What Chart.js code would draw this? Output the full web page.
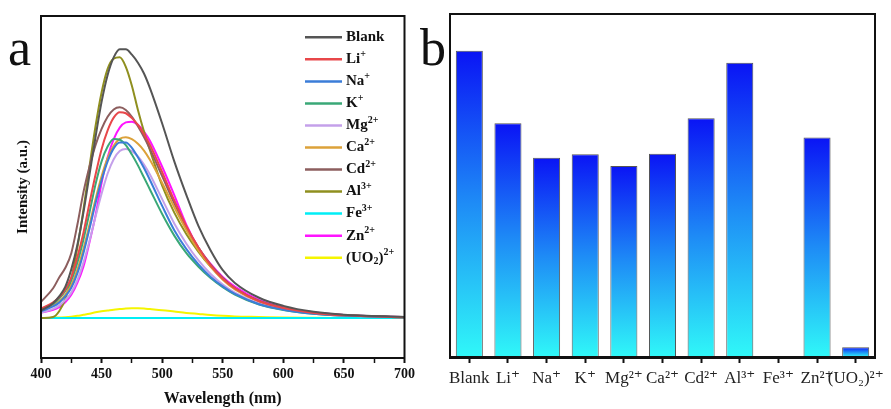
<!DOCTYPE html>
<html>
<head>
<meta charset="utf-8">
<script src="https://cdn.jsdelivr.net/npm/chart.js@4.4.0/dist/chart.umd.min.js"></script>
<style>
  body { margin: 0; background: #fff; width: 891px; height: 409px; overflow: hidden; position: relative; }
  #wrapA { position: absolute; left: 0; top: 0; width: 418px; height: 409px; }
  #wrapB { position: absolute; left: 418px; top: 0; width: 473px; height: 409px; }
</style>
</head>
<body>
<div id="wrapA"><canvas id="spectra" width="418" height="409"></canvas></div>
<div id="wrapB"><canvas id="bars" width="473" height="409"></canvas></div>
<script>
// (a) emission spectra
const wavelengths = [400,410,415,420,425,430,435,440,445,450,455,460,465,470,475,480,485,490,500,510,520,530,540,550,560,580,600,625,650,700];
const blank = [0.027,0.055,0.08,0.115,0.18,0.27,0.39,0.53,0.67,0.80,0.90,0.965,0.995,0.995,0.975,0.945,0.905,0.85,0.72,0.58,0.455,0.34,0.25,0.177,0.13,0.075,0.045,0.023,0.012,0.004];
const li = [0.035,0.058,0.077,0.105,0.15,0.225,0.315,0.425,0.53,0.625,0.695,0.742,0.762,0.758,0.74,0.715,0.68,0.64,0.54,0.435,0.34,0.26,0.195,0.145,0.11,0.062,0.037,0.019,0.01,0.003];
const na = [0.025,0.043,0.057,0.08,0.112,0.165,0.24,0.33,0.425,0.51,0.58,0.628,0.65,0.65,0.63,0.595,0.555,0.51,0.415,0.325,0.255,0.198,0.152,0.117,0.089,0.051,0.031,0.016,0.009,0.003];
const k = [0.03,0.053,0.072,0.1,0.14,0.205,0.29,0.39,0.495,0.58,0.635,0.663,0.66,0.64,0.605,0.565,0.52,0.475,0.385,0.305,0.24,0.19,0.148,0.114,0.087,0.05,0.03,0.016,0.009,0.003];
const mg = [0.02,0.034,0.046,0.066,0.094,0.14,0.205,0.285,0.375,0.46,0.535,0.588,0.618,0.626,0.618,0.598,0.568,0.53,0.44,0.35,0.275,0.213,0.163,0.124,0.094,0.054,0.032,0.017,0.009,0.003];
const ca = [0.03,0.048,0.062,0.086,0.122,0.178,0.255,0.345,0.44,0.525,0.592,0.638,0.663,0.669,0.662,0.645,0.62,0.585,0.5,0.41,0.325,0.25,0.19,0.142,0.106,0.06,0.036,0.019,0.01,0.003];
const cd = [0.06,0.11,0.15,0.185,0.24,0.345,0.465,0.56,0.64,0.70,0.745,0.772,0.78,0.77,0.745,0.71,0.67,0.625,0.525,0.425,0.335,0.26,0.198,0.148,0.11,0.063,0.038,0.02,0.011,0.003];
const al = [0.0,0.004,0.025,0.07,0.145,0.26,0.40,0.56,0.71,0.835,0.922,0.96,0.965,0.93,0.86,0.77,0.69,0.62,0.49,0.39,0.31,0.245,0.19,0.145,0.11,0.062,0.037,0.019,0.01,0.003];
const fe = [0,0,0,0,0,0,0,0,0,0,0,0,0,0,0,0,0,0,0,0,0,0,0,0,0,0,0,0,0,0];
const zn = [0.02,0.03,0.04,0.058,0.086,0.13,0.19,0.28,0.38,0.5,0.595,0.662,0.705,0.724,0.727,0.715,0.69,0.655,0.56,0.455,0.345,0.26,0.2,0.152,0.116,0.067,0.04,0.021,0.011,0.003];
const uo2 = [0,0.001,0.002,0.003,0.005,0.008,0.012,0.016,0.021,0.025,0.028,0.031,0.033,0.035,0.036,0.036,0.035,0.033,0.029,0.024,0.019,0.015,0.011,0.008,0.006,0.004,0.002,0.001,0.0005,0];

const ionNames = ['Blank','Li⁺','Na⁺','K⁺','Mg²⁺','Ca²⁺','Cd²⁺','Al³⁺','Fe³⁺','Zn²⁺','(UO₂)²⁺'];
const spectra = [blank, li, na, k, mg, ca, cd, al, fe, zn, uo2];
const lineColors = ['#555555','#e8474a','#3b7dd8','#3aa877','#c4a0ea','#dca23a','#8c5e5e','#8f8f1f','#00eef6','#ff14ff','#f5f500'];

// (b) bar heights
const barValues = [1.0,0.763,0.651,0.662,0.624,0.664,0.780,0.961,0,0.717,0.032];

const serif = "'Liberation Serif','Times New Roman','DejaVu Serif',serif";
const supMap = { '⁺':'+', '²':'2', '³':'3' };
const subMap = { '₂':'2' };

function drawRich(c, text, x, y, size, weight) {
  c.textBaseline = 'middle';
  c.textAlign = 'left';
  for (const ch of text) {
    if (supMap[ch]) {
      c.font = weight + ' ' + Math.round(size * 0.64) + 'px ' + serif;
      c.fillText(supMap[ch], x, y - size * 0.36);
      x += c.measureText(supMap[ch]).width;
    } else if (subMap[ch]) {
      c.font = weight + ' ' + Math.round(size * 0.64) + 'px ' + serif;
      c.fillText(subMap[ch], x, y + size * 0.26);
      x += c.measureText(subMap[ch]).width;
    } else {
      c.font = weight + ' ' + size + 'px ' + serif;
      c.fillText(ch, x, y);
      x += c.measureText(ch).width;
    }
  }
}

const framePlugin = {
  id: 'frame',
  afterDraw(chart) {
    const { ctx, chartArea: a } = chart;
    ctx.save();
    ctx.strokeStyle = '#111';
    ctx.lineWidth = 2;
    ctx.strokeRect(a.left, a.top, a.right - a.left, a.bottom - a.top);
    ctx.restore();
  }
};

const letterPlugin = {
  id: 'panelLetter',
  afterDraw(chart, args, opts) {
    const ctx = chart.ctx;
    ctx.save();
    ctx.fillStyle = '#111';
    ctx.font = '52px ' + serif;
    ctx.textBaseline = 'alphabetic';
    ctx.fillText(opts.text, opts.x, opts.y);
    ctx.restore();
  }
};

const legendPlugin = {
  id: 'ionLegend',
  afterDatasetsDraw(chart, args, opts) {
    const ctx = chart.ctx;
    ctx.save();
    chart.data.datasets.forEach((ds, i) => {
      const y = opts.y + i * opts.gap;
      ctx.strokeStyle = ds.borderColor;
      ctx.lineWidth = 2.5;
      ctx.beginPath();
      ctx.moveTo(opts.x, y);
      ctx.lineTo(opts.x + 37, y);
      ctx.stroke();
      ctx.fillStyle = '#111';
      drawRich(ctx, ds.label, opts.x + 41, y, 15, 'bold');
    });
    ctx.restore();
  }
};

new Chart(document.getElementById('spectra'), {
  type: 'line',
  data: {
    datasets: spectra.map((s, i) => ({
      label: ionNames[i],
      data: wavelengths.map((w, j) => ({ x: w, y: s[j] })),
      borderColor: lineColors[i],
      backgroundColor: lineColors[i],
      borderWidth: 2,
      pointRadius: 0,
      cubicInterpolationMode: 'monotone',
      fill: false
    }))
  },
  options: {
    responsive: false,
    animation: false,
    layout: { padding: { left: 0, top: 16, right: 11, bottom: 0 } },
    plugins: {
      legend: { display: false },
      tooltip: { enabled: false },
      panelLetter: { text: 'a', x: 8, y: 65 },
      ionLegend: { x: 305, y: 37.3, gap: 22.04 }
    },
    scales: {
      x: {
        type: 'linear', min: 400, max: 700,
        ticks: {
          stepSize: 25, autoSkip: false, maxRotation: 0, padding: 3, color: '#111',
          font: { family: serif, weight: 'bold', size: 14 },
          callback: v => (v % 50 === 0 ? v : '')
        },
        grid: {
          drawOnChartArea: false, drawTicks: true, tickLength: 5, color: '#111',
          tickWidth: ctx => (ctx.tick && ctx.tick.value % 50 === 0 ? 2 : 1.5)
        },
        border: { display: true, color: '#111', width: 2 },
        title: {
          display: true, text: 'Wavelength (nm)', color: '#111',
          font: { family: serif, weight: 'bold', size: 16 },
          padding: { top: 0, bottom: 1 }
        },
        afterFit: s => { s.height = 51; }
      },
      y: {
        min: -0.148, max: 1.118,
        ticks: { display: false },
        grid: { display: false, drawTicks: false },
        border: { display: true, color: '#111', width: 2 },
        title: {
          display: true, text: 'Intensity (a.u.)', color: '#111',
          font: { family: serif, weight: 'bold', size: 15 },
          padding: { top: 14, bottom: 0 }
        },
        afterFit: s => { s.width = 41; }
      }
    }
  },
  plugins: [framePlugin, letterPlugin, legendPlugin]
});

function barGradient(context) {
  const chart = context.chart;
  const y = chart.scales && chart.scales.y;
  if (!chart.chartArea || !y || context.type !== 'data') return '#1d86f6';
  const top = y.getPixelForValue(context.raw);
  const base = y.getPixelForValue(0);
  if (base - top < 1) return 'rgba(0,0,0,0)';
  const g = chart.ctx.createLinearGradient(0, top, 0, base);
  g.addColorStop(0, '#0a14f5');
  g.addColorStop(0.5, '#1e8cf6');
  g.addColorStop(1, '#30f8f8');
  return g;
}

new Chart(document.getElementById('bars'), {
  type: 'bar',
  data: {
    labels: ionNames,
    datasets: [{
      data: barValues,
      backgroundColor: barGradient,
      borderColor: '#555',
      borderWidth: 1,
      borderSkipped: 'bottom',
      barPercentage: 0.7,
      categoryPercentage: 1
    }]
  },
  options: {
    responsive: false,
    animation: false,
    layout: { padding: { left: 0, top: 14, right: 16, bottom: 0 } },
    plugins: {
      legend: { display: false },
      tooltip: { enabled: false },
      panelLetter: { text: 'b', x: 2, y: 65 }
    },
    scales: {
      x: {
        ticks: {
          autoSkip: false, maxRotation: 0, minRotation: 0, padding: 5, color: '#222',
          font: { family: serif, size: 17 }
        },
        grid: { offset: false, drawOnChartArea: false, tickLength: 6, tickWidth: 2, color: '#111' },
        border: { display: true, color: '#111', width: 3 },
        afterFit: s => { s.height = 52; }
      },
      y: {
        min: 0, max: 1.12,
        ticks: { display: false },
        grid: { display: false, drawTicks: false },
        border: { display: true, color: '#111', width: 2 },
        afterFit: s => { s.width = 32; }
      }
    }
  },
  plugins: [framePlugin, letterPlugin]
});
</script>
</body>
</html>
